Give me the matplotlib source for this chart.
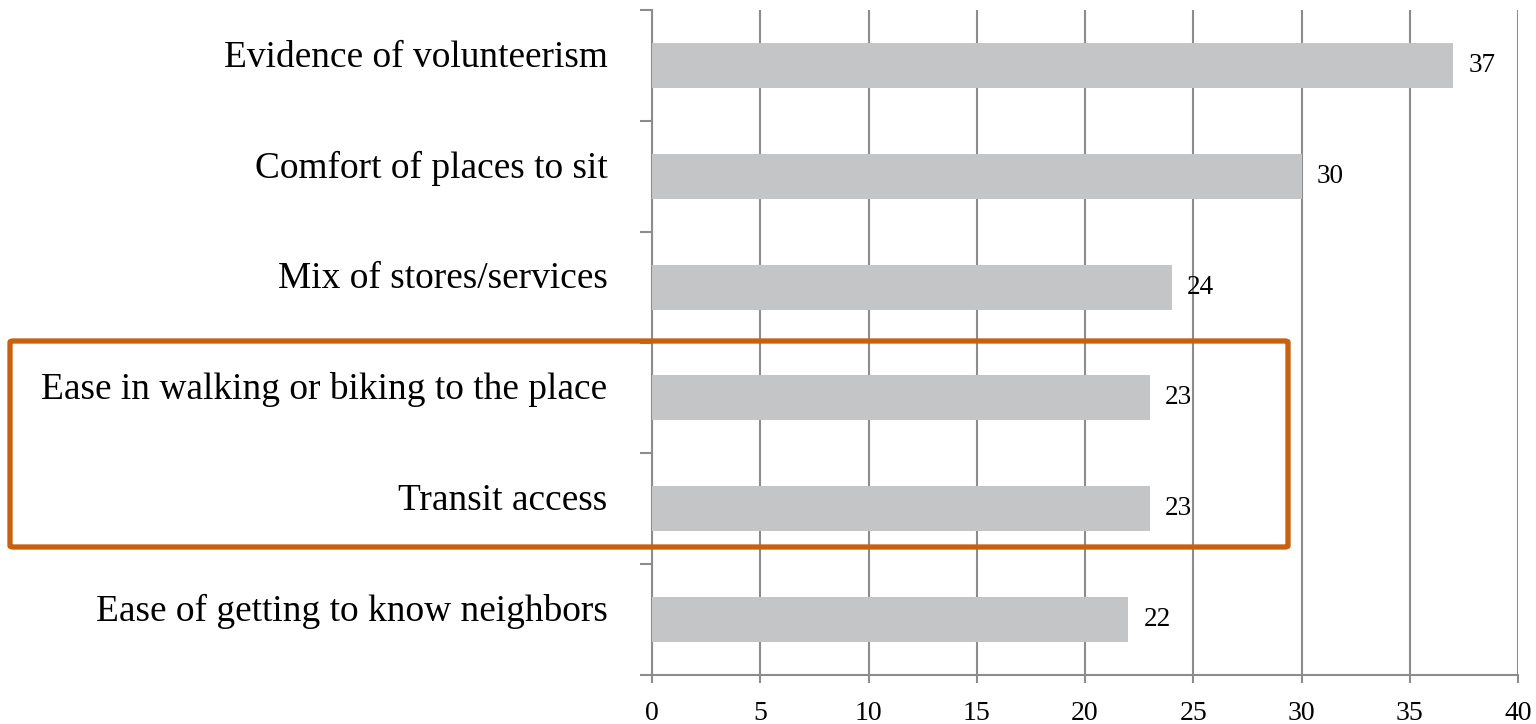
import matplotlib
matplotlib.use("Agg")
import matplotlib.pyplot as plt
from matplotlib.patches import FancyBboxPatch
from matplotlib.transforms import ScaledTranslation

categories = ["Evidence of volunteerism", "Comfort of places to sit", "Mix of stores/services",
              "Ease in walking or biking to the place", "Transit access", "Ease of getting to know neighbors"]
values = [37, 30, 24, 23, 23, 22]
xticks = [0, 5, 10, 15, 20, 25, 30, 35, 40]

plt.rcParams['font.family'] = ['Liberation Serif', 'DejaVu Serif']

W, H = 1536, 724
fig = plt.figure(figsize=(W/100, H/100), dpi=100)
ax = fig.add_axes([652/W, 1-675/H, (1518-652)/W, (675-10)/H])

n = len(categories)
ypos = list(range(n))
ax.barh(ypos, values, height=0.405, color='#C4C5C6', zorder=3)
ax.set_ylim(n-0.5, -0.5)
ax.set_xlim(0, 40)
ax.set_xticks(xticks)
ax.set_xticklabels([str(t) for t in xticks], fontsize=20)
ax.set_yticks([i-0.5 for i in range(n+1)], minor=False)
ax.set_yticklabels([])
ax.set_yticks(ypos, minor=True)
ax.set_yticklabels(categories, minor=True, fontsize=26.9)
ax.tick_params(axis='y', which='minor', length=0, pad=32)
ax.tick_params(axis='y', which='major', length=9, width=1.5, color='#8c8c8c')
ax.tick_params(axis='x', length=6, width=1.5, color='#8c8c8c', pad=13)
ax.grid(axis='x', color='#8c8c8c', linewidth=1.5, zorder=0)
for s in ['top', 'right']:
    ax.spines[s].set_visible(False)
for s in ['left', 'bottom']:
    ax.spines[s].set_color('#8c8c8c')
    ax.spines[s].set_linewidth(1.5)
ax.spines['bottom'].set_zorder(4)

shift = ScaledTranslation(0, 12/100, fig.dpi_scale_trans)
for lab in ax.get_yticklabels(minor=True):
    lab.set_transform(lab.get_transform() + shift)

for i, v in enumerate(values):
    ax.annotate(str(v), (v, i), xytext=(11, 0), textcoords='offset points',
                va='center', ha='left', fontsize=19.5, zorder=5)

box = FancyBboxPatch((10/W, 1-547/H), (1288-10)/W, (547-341)/H,
                     boxstyle='round,pad=0,rounding_size=0.002',
                     transform=fig.transFigure, fill=False, edgecolor='#C8600E',
                     linewidth=3.8, zorder=10)
fig.patches.append(box)

fig.savefig('out.png', dpi=100)
